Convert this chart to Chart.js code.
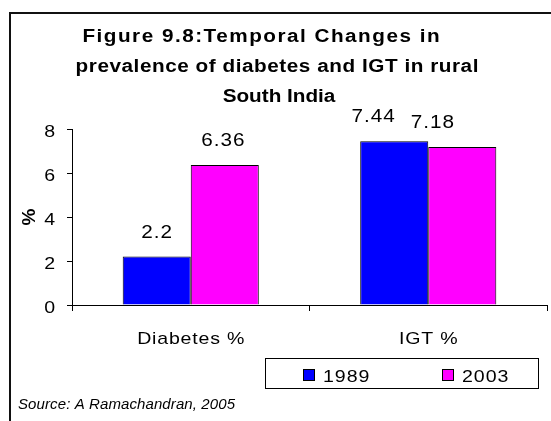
<!DOCTYPE html>
<html>
<head>
<meta charset="utf-8">
<script src="https://cdn.jsdelivr.net/npm/chart.js@4.4.0/dist/chart.umd.min.js"></script>
<style>
  html, body { margin: 0; padding: 0; background: #fff; }
  #wrap { width: 551px; height: 421px; }
</style>
</head>
<body>
<div id="wrap"><canvas id="chart" width="551" height="421"></canvas></div>
<script>
// chart data
const categories = ['Diabetes %', 'IGT %'];
const seriesNames = ['1989', '2003'];
const values1989 = [2.2, 7.44];
const values2003 = [6.36, 7.18];
const yTicks = [0, 2, 4, 6, 8];
const titleLines = ['Figure 9.8:Temporal Changes in', 'prevalence of diabetes and IGT in rural', 'South India'];
const sourceNote = 'Source: A Ramachandran, 2005';

const FONT = '"Liberation Sans", Arial, sans-serif';
const colors = ['#0000FF', '#FF00FF'];
const STRETCH = 1.15; // the chart in the reference is a little wider than tall

// draw text horizontally stretched, with optional extra spacing (final px)
function wideText(ctx, text, x, y, spacing, align, sx = STRETCH) {
    ctx.save();
    ctx.letterSpacing = (spacing / sx) + 'px';
    ctx.textAlign = 'left';
    const w = ctx.measureText(text).width * sx - spacing;
    let left = x;
    if (align === 'center') left = x - w / 2;
    if (align === 'right') left = x - w;
    ctx.translate(left, y);
    ctx.scale(sx, 1);
    ctx.fillText(text, 0, 0);
    ctx.restore();
}

const decorations = {
    id: 'decorations',
    afterDraw(chart) {
        const ctx = chart.ctx;
        const { x: xs, y: ys } = chart.scales;
        ctx.save();
        ctx.fillStyle = '#000';
        ctx.textBaseline = 'alphabetic';

        // outer frame (right and bottom edges fall outside the picture)
        ctx.strokeStyle = '#111';
        ctx.lineWidth = 2;
        ctx.strokeRect(10, 13, 700, 700);

        // title
        ctx.font = 'bold 18px ' + FONT;
        wideText(ctx, titleLines[0], 261, 42, 1.5, 'center');
        wideText(ctx, titleLines[1], 277, 72, 0.55, 'center');
        wideText(ctx, titleLines[2], 279, 102, 0, 'center');

        // axis tick labels, positioned by the library's scales
        ctx.font = '17px ' + FONT;
        ys.ticks.forEach((t, i) => {
            wideText(ctx, String(t.value), ys.left + 55, ys.getPixelForTick(i) + 7.5, 0, 'right');
        });
        xs.ticks.forEach((t, i) => {
            wideText(ctx, xs.getLabelForValue(t.value), xs.getPixelForTick(i), xs.top + 39, 0.8, 'center');
        });

        // value labels above the bars
        const nudges = [[0, -2], [-21, -30]];
        ctx.font = '18px ' + FONT;
        chart.data.datasets.forEach((ds, i) => {
            chart.getDatasetMeta(i).data.forEach((bar, j) => {
                wideText(ctx, String(ds.data[j]), bar.x + nudges[j][i], bar.y - 19, 1, 'center');
            });
        });

        // legend box
        ctx.lineWidth = 1;
        ctx.strokeStyle = '#000';
        ctx.strokeRect(265.5, 358.5, 273, 30);
        ctx.font = '17px ' + FONT;
        const legendX = [303, 442];
        chart.data.datasets.forEach((ds, i) => {
            ctx.fillStyle = ds.backgroundColor;
            ctx.fillRect(legendX[i] + 0.5, 369.5, 11, 11);
            ctx.strokeRect(legendX[i] + 0.5, 369.5, 11, 11);
            ctx.fillStyle = '#000';
            wideText(ctx, ds.label, legendX[i] + 20, 382, 1, 'left');
        });

        // source note sits outside the stretched chart
        ctx.font = 'italic 15px ' + FONT;
        wideText(ctx, sourceNote, 18, 409, 0.1, 'left', 1);
        ctx.restore();
    }
};

new Chart(document.getElementById('chart'), {
    type: 'bar',
    data: {
        labels: categories,
        datasets: [
            { label: seriesNames[0], data: values1989, backgroundColor: colors[0] },
            { label: seriesNames[1], data: values2003, backgroundColor: colors[1] }
        ]
    },
    options: {
        responsive: false,
        animation: false,
        devicePixelRatio: 1,
        layout: { padding: { top: 129, right: 4, left: 0, bottom: 0 } },
        datasets: {
            bar: {
                borderColor: '#000',
                borderWidth: 1,
                categoryPercentage: 0.573,
                barPercentage: 1
            }
        },
        plugins: {
            legend: { display: false },
            title: { display: false },
            tooltip: { enabled: false }
        },
        scales: {
            x: {
                offset: true,
                grid: { offset: true, drawOnChartArea: false, drawTicks: true, tickLength: 6, color: '#000' },
                border: { color: '#000', width: 1 },
                ticks: { display: false },
                afterFit(scale) { scale.height = 116; }
            },
            y: {
                min: yTicks[0],
                max: yTicks[yTicks.length - 1],
                grid: { drawOnChartArea: false, drawTicks: true, tickLength: 5, color: '#000' },
                border: { color: '#000', width: 1 },
                ticks: { display: false, stepSize: yTicks[1] - yTicks[0] },
                title: { display: true, text: '%', color: '#000', font: { family: FONT, size: 19, weight: 'bold' }, padding: { top: 18, bottom: 0 } },
                afterFit(scale) { scale.width = 72; }
            }
        }
    },
    plugins: [decorations]
});
</script>
</body>
</html>
